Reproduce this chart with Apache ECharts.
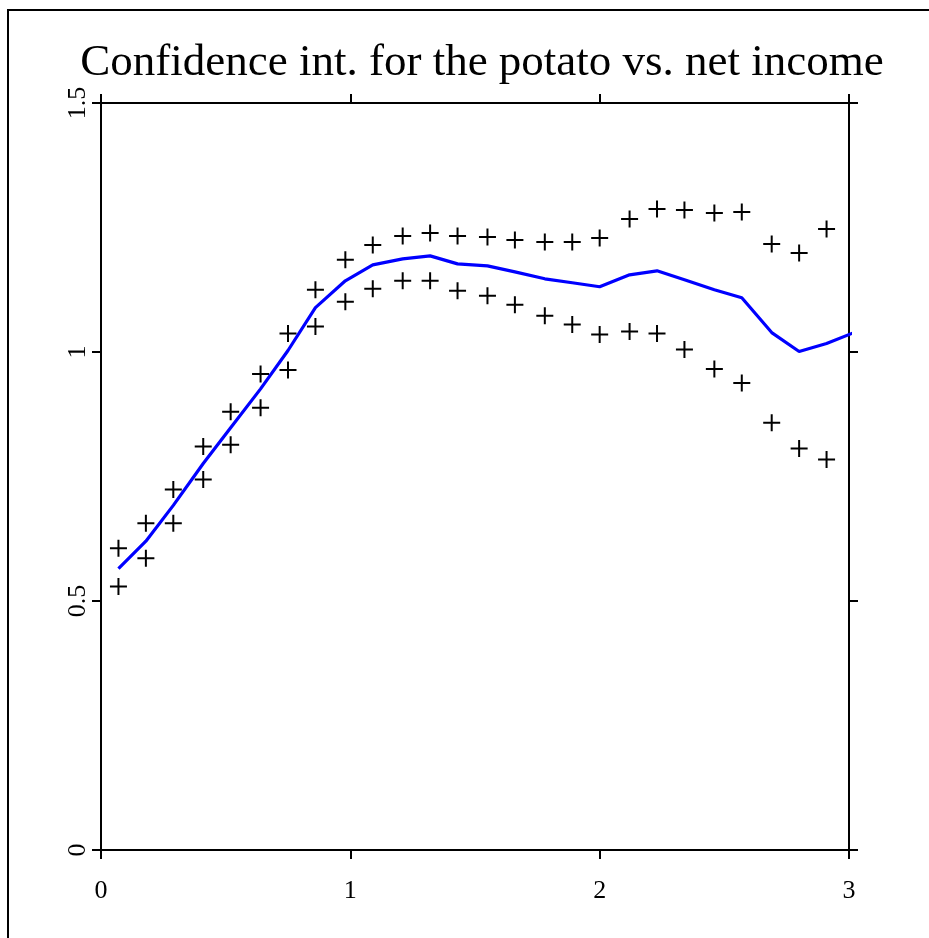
<!DOCTYPE html>
<html>
<head>
<meta charset="utf-8">
<script src="https://cdn.jsdelivr.net/npm/echarts@6/dist/echarts.min.js"></script>
<style>
  html, body { margin: 0; padding: 0; background: #fff; }
  #ci-chart { width: 929px; height: 938px; }
</style>
</head>
<body>
<div id="ci-chart"></div>
<script>
// net income grid (x) and fitted potato share with its confidence bounds
var xVals = [0.07, 0.18, 0.29, 0.41, 0.52, 0.64, 0.75, 0.86, 0.98, 1.09, 1.21, 1.32, 1.43,
    1.55, 1.66, 1.78, 1.89, 2.00, 2.12, 2.23, 2.34, 2.46, 2.57, 2.69, 2.80, 2.91, 3.03];
var fitVals = [0.565, 0.620, 0.692, 0.776, 0.848, 0.926, 1.003, 1.089, 1.143, 1.175, 1.187, 1.193, 1.177,
    1.173, 1.161, 1.147, 1.139, 1.131, 1.155, 1.163, 1.145, 1.125, 1.109, 1.039, 1.001, 1.017, 1.041];
var upperVals = [0.606, 0.656, 0.724, 0.810, 0.880, 0.956, 1.037, 1.125, 1.185, 1.215, 1.233, 1.239, 1.233,
    1.231, 1.225, 1.221, 1.221, 1.229, 1.267, 1.287, 1.285, 1.279, 1.281, 1.217, 1.199, 1.247];
var lowerVals = [0.529, 0.586, 0.656, 0.744, 0.814, 0.888, 0.964, 1.051, 1.101, 1.127, 1.143, 1.143, 1.123,
    1.113, 1.095, 1.073, 1.055, 1.035, 1.041, 1.037, 1.005, 0.966, 0.938, 0.858, 0.806, 0.784];
var xTicks = [0, 1, 2, 3];
var yTicks = [0, 0.5, 1, 1.5];

function pairs(xs, ys) {
    var out = [];
    for (var i = 0; i < ys.length; i++) {
        out.push([xs[i], ys[i]]);
    }
    return out;
}

var serif = '"Liberation Serif", "DejaVu Serif", serif';
var crossPath = 'path://M0,8L16,8M8,0L8,16';

var tickStyle = { show: true, inside: false, length: 9, lineStyle: { color: '#000', width: 2 } };
var lineStyle = { show: true, onZero: false, lineStyle: { color: '#000', width: 2 } };
var crossStyle = { color: 'none', borderColor: '#000', borderWidth: 2, opacity: 1 };

option = {
    backgroundColor: '#fff',
    animation: false,
    title: {
        text: 'Confidence int. for the potato vs. net income',
        left: 477,
        top: 36,
        textAlign: 'center',
        textStyle: {
            fontFamily: serif,
            fontSize: 45,
            fontWeight: 'normal',
            color: '#000'
        }
    },
    graphic: [
        {
            type: 'rect',
            shape: { x: 8, y: 10, width: 960, height: 960 },
            style: { fill: 'none', stroke: '#000', lineWidth: 2 },
            silent: true
        }
    ],
    grid: {
        left: 101,
        right: 80,
        top: 103,
        bottom: 88
    },
    xAxis: [
        {
            type: 'value',
            position: 'bottom',
            min: 0,
            max: 3,
            interval: 1,
            axisLine: lineStyle,
            axisTick: tickStyle,
            splitLine: { show: false },
            axisLabel: {
                margin: 28,
                fontFamily: serif,
                fontSize: 26,
                color: '#000',
                formatter: function (v) { return xTicks.indexOf(v) >= 0 ? String(v) : ''; }
            }
        },
        {
            type: 'value',
            position: 'top',
            min: 0,
            max: 3,
            interval: 1,
            axisLine: lineStyle,
            axisTick: tickStyle,
            splitLine: { show: false },
            axisLabel: { show: false }
        }
    ],
    yAxis: [
        {
            type: 'value',
            position: 'left',
            min: 0,
            max: 1.5,
            interval: 0.5,
            axisLine: lineStyle,
            axisTick: tickStyle,
            splitLine: { show: false },
            axisLabel: {
                rotate: 90,
                margin: 10,
                fontFamily: serif,
                fontSize: 26,
                color: '#000',
                formatter: function (v) { return yTicks.indexOf(v) >= 0 ? String(v) : ''; }
            }
        },
        {
            type: 'value',
            position: 'right',
            min: 0,
            max: 1.5,
            interval: 0.5,
            axisLine: lineStyle,
            axisTick: tickStyle,
            splitLine: { show: false },
            axisLabel: { show: false }
        }
    ],
    series: [
        {
            name: 'Upper',
            type: 'scatter',
            symbol: crossPath,
            symbolSize: 17,
            itemStyle: crossStyle,
            data: pairs(xVals, upperVals)
        },
        {
            name: 'Lower',
            type: 'scatter',
            symbol: crossPath,
            symbolSize: 17,
            itemStyle: crossStyle,
            data: pairs(xVals, lowerVals)
        },
        {
            name: 'Fit',
            type: 'line',
            clip: true,
            symbol: 'none',
            lineStyle: { color: '#0000ff', width: 3.2 },
            data: pairs(xVals, fitVals)
        }
    ]
};

var ciChart = echarts.init(document.getElementById('ci-chart'));
ciChart.setOption(option);
</script>
</body>
</html>
